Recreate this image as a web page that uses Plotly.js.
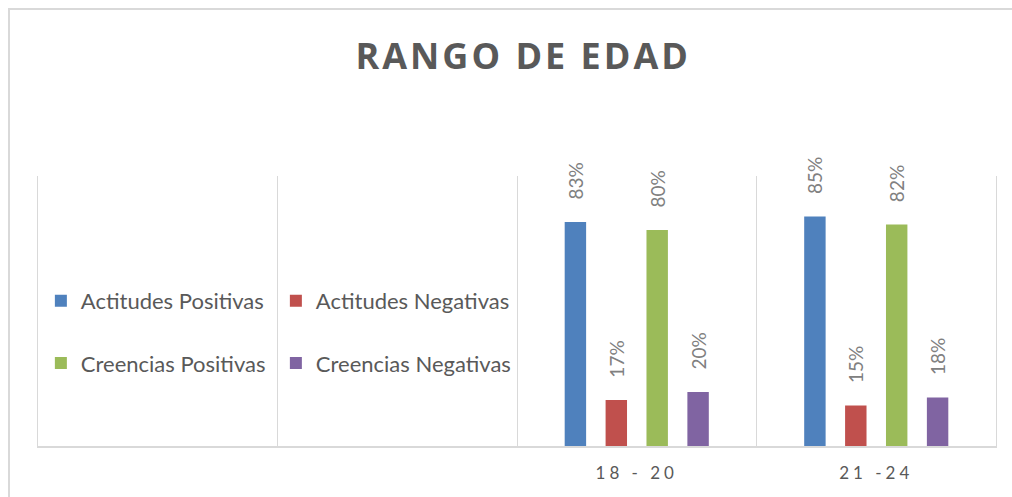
<!DOCTYPE html>
<html>
<head>
<meta charset="utf-8">
<script src="https://cdn.plot.ly/plotly-3.0.1.min.js"></script>
<style>
  html, body { margin: 0; padding: 0; background: #fff; }
  #chart { width: 1012px; height: 497px; position: relative; }
  #frame { position: absolute; left: 8px; top: 8px; width: 1200px; height: 700px;
           border-left: 2px solid #d9d9d9; border-top: 2px solid #d9d9d9; pointer-events: none; }
  .gtitle { letter-spacing: 3px; }
  .xtick text { letter-spacing: 4px; }
</style>
</head>
<body>
<div id="chart"></div>
<div id="frame"></div>
<script>
// Category slots: the first two are empty (the legend sits there)
const slots = ["vacio1", "vacio2", "18 - 20", "21 -24"];
const slotLabels = ["", "", "18 - 20", "21 -24"];
const ageGroups = ["18 - 20", "21 -24"];

const seriesNames = ["Actitudes Positivas", "Actitudes Negativas", "Creencias Positivas", "Creencias Negativas"];
const actitudesPositivas = [0.83, 0.85];
const actitudesNegativas = [0.17, 0.15];
const creenciasPositivas = [0.80, 0.82];
const creenciasNegativas = [0.20, 0.18];

const colors = ["#4F81BD", "#C0504D", "#9BBB59", "#8064A2"];
const values = [actitudesPositivas, actitudesNegativas, creenciasPositivas, creenciasNegativas];
const legendIds = ["legend", "legend", "legend2", "legend2"];

const traces = values.map((v, i) => ({
  type: "bar",
  name: seriesNames[i],
  x: ageGroups,
  y: v,
  marker: { color: colors[i] },
  texttemplate: "\u00a0\u00a0\u00a0\u00a0%{y:.0%}",
  textposition: "outside",
  textangle: -90,
  constraintext: "none",
  cliponaxis: false,
  textfont: { family: "Lato", size: 19, color: "#808080" },
  legend: legendIds[i],
  hoverinfo: "skip"
}));

const legendBase = {
  orientation: "h",
  xanchor: "left",
  yanchor: "middle",
  x: 0.003,
  entrywidth: 190,
  entrywidthmode: "pixels",
  bgcolor: "rgba(0,0,0,0)",
  font: { family: "Lato", size: 22, color: "#595959" }
};

const layout = {
  width: 1012,
  height: 497,
  margin: { l: 38, r: 16, t: 176, b: 51 },
  paper_bgcolor: "#ffffff",
  plot_bgcolor: "#ffffff",
  title: {
    text: "<b>RANGO DE EDAD</b>",
    x: 0.517, xref: "container", xanchor: "center",
    y: 0.8865, yref: "container", yanchor: "middle",
    font: { family: "Open Sans", size: 36, color: "#595959" }
  },
  barmode: "group",
  bargap: 0.317,
  bargroupgap: 0.476,
  showlegend: true,
  legend: Object.assign({}, legendBase, { y: 0.537 }),
  legend2: Object.assign({}, legendBase, { y: 0.307 }),
  xaxis: {
    type: "category",
    categoryorder: "array",
    categoryarray: slots,
    tickvals: slots,
    ticktext: slotLabels,
    range: [-0.5, 3.5],
    tickson: "boundaries",
    showgrid: true,
    gridcolor: "#d9d9d9",
    gridwidth: 1,
    showline: true,
    linecolor: "#d9d9d9",
    linewidth: 2,
    ticks: "",
    ticklabelstandoff: 11,
    tickfont: { family: "Lato", size: 17, color: "#595959" },
    fixedrange: true
  },
  yaxis: {
    range: [0, 1],
    showticklabels: false,
    showgrid: false,
    zeroline: false,
    showline: true,
    mirror: true,
    linecolor: "#d9d9d9",
    linewidth: 1,
    ticks: "",
    fixedrange: true
  }
};

Plotly.newPlot("chart", traces, layout, { displayModeBar: false, staticPlot: true });
</script>
</body>
</html>
